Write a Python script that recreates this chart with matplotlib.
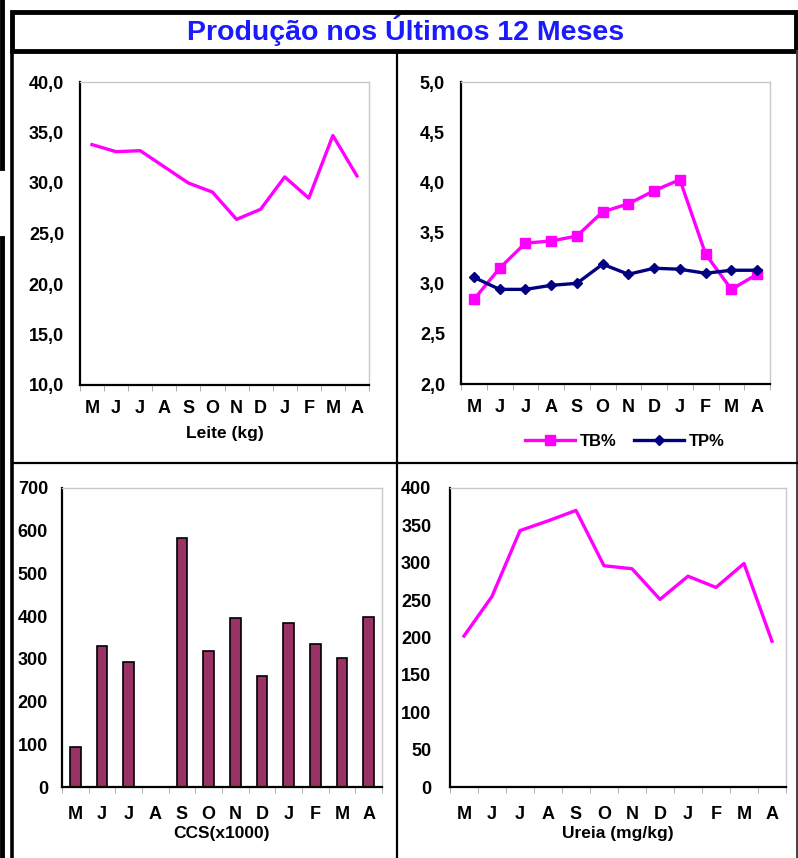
import matplotlib.pyplot as plt
import numpy as np
from matplotlib.lines import Line2D
from matplotlib.patches import Rectangle
from matplotlib.ticker import FuncFormatter, FixedLocator

plt.rcParams['font.family'] = ['Liberation Sans', 'DejaVu Sans']
plt.rcParams['font.weight'] = 'bold'

W, H = 798, 858

# data
meses = ['M', 'J', 'J', 'A', 'S', 'O', 'N', 'D', 'J', 'F', 'M', 'A']
leite = [33.8, 33.1, 33.2, 31.6, 30.0, 29.1, 26.4, 27.4, 30.6, 28.5, 34.7, 30.7]
tb = [2.84, 3.15, 3.40, 3.42, 3.47, 3.71, 3.79, 3.92, 4.03, 3.29, 2.94, 3.09]
tp = [3.06, 2.94, 2.94, 2.98, 3.00, 3.19, 3.09, 3.15, 3.14, 3.10, 3.13, 3.13]
ccs = [94, 331, 292, 0, 584, 319, 395, 260, 385, 334, 303, 397]
ureia = [202, 255, 343, 356, 370, 296, 292, 251, 282, 267, 299, 195]

magenta = '#ff00ff'
navy = '#000080'
plum = '#993366'

fig = plt.figure(figsize=(W / 100, H / 100), dpi=100)


def px_axes(l, t, r, b):
    return fig.add_axes([l / W, 1 - b / H, (r - l) / W, (b - t) / H])


def style(ax, ymin, ymax, step, fmt, xlabel, lab_pad, xl_pad, y_pad):
    x = np.arange(len(meses))
    ax.set_xlim(-0.5, len(meses) - 0.5)
    ax.set_ylim(ymin, ymax)
    ax.set_yticks(np.arange(ymin, ymax + step / 2, step))
    ax.yaxis.set_major_formatter(FuncFormatter(fmt))
    ax.set_xticks(x)
    ax.set_xticklabels(meses)
    ax.xaxis.set_minor_locator(FixedLocator(np.arange(-0.5, len(meses), 1)))
    ax.tick_params(axis='x', which='major', length=0, pad=lab_pad, labelsize=13)
    ax.tick_params(axis='x', which='minor', length=4, color='#a0a0a0', direction='out')
    ax.tick_params(axis='y', length=0, pad=y_pad, labelsize=13)
    for s in ['top', 'right']:
        ax.spines[s].set_color('#c8c8c8')
        ax.spines[s].set_linewidth(1)
    for s in ['left', 'bottom']:
        ax.spines[s].set_color('black')
        ax.spines[s].set_linewidth(1.6)
    ax.set_xlabel(xlabel, fontsize=12.5, fontweight='bold', labelpad=xl_pad)


x = np.arange(len(meses))

# Leite
ax1 = px_axes(80, 82, 369, 385)
ax1.plot(x, leite, color=magenta, lw=2.4, clip_on=False)
style(ax1, 10, 40, 5, lambda v, p: f'{v:.1f}'.replace('.', ','), 'Leite (kg)', 11, 6, 11.5)

# TB% / TP%
ax2 = px_axes(461, 82, 770, 384)
ax2.plot(x, tb, color=magenta, lw=2.4, marker='s', ms=7, label='TB%', clip_on=False)
ax2.plot(x, tp, color=navy, lw=2.4, marker='D', ms=5, label='TP%', clip_on=False)
style(ax2, 2, 5, 0.5, lambda v, p: f'{v:.1f}'.replace('.', ','), '', 11, 0, 11.5)
ax2.legend(loc='upper center', bbox_to_anchor=(0.53, -0.115), ncol=2, frameon=False,
           handlelength=3.0, columnspacing=1.0, handletextpad=0.3,
           prop={'weight': 'bold', 'size': 12})

# CCS
ax3 = px_axes(62, 488, 382, 787)
ax3.bar(x, ccs, width=0.4, color=plum, edgecolor='black', lw=1.2)
style(ax3, 0, 700, 100, lambda v, p: f'{v:.0f}', 'CCS(x1000)', 14, 2, 10)

# Ureia
ax4 = px_axes(450, 488, 786, 787)
ax4.plot(x, ureia, color=magenta, lw=2.4, clip_on=False)
style(ax4, 0, 400, 50, lambda v, p: f'{v:.0f}', 'Ureia (mg/kg)', 14, 2, 13.5)

# frame and title box
def fline(x0, y0, x1, y1, lw, c='black'):
    fig.add_artist(Line2D([x0 / W, x1 / W], [1 - y0 / H, 1 - y1 / H], color=c, lw=lw))

fig.add_artist(Rectangle((12 / W, 1 - 51 / H), 784 / W, 39 / H, transform=fig.transFigure,
                         fill=False, edgecolor='black', lw=3.5))
fig.text(406 / W, 1 - 31 / H, 'Produção nos Últimos 12 Meses', color='#1a1aff',
         fontsize=20.5, fontweight='bold', ha='center', va='center')
fline(12, 51, 12, 858, 2.6)
fline(797, 51, 797, 858, 1.4, '#404040')
fline(397, 51, 397, 858, 1.6)
fline(12, 463, 797, 463, 1.6)
fline(2, 0, 2, 168, 3.5)
fline(2, 238, 2, 858, 3.5)

fig.savefig('out.png', dpi=100)
